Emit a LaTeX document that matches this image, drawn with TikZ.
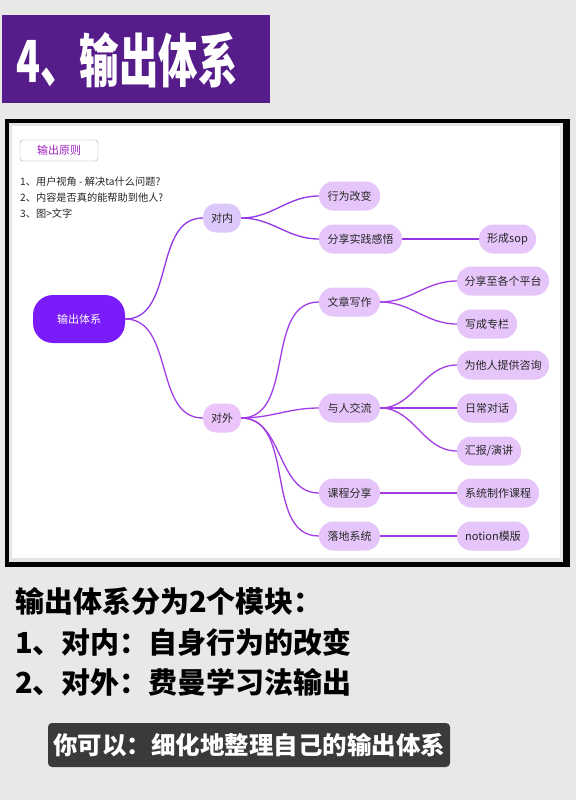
\documentclass[tikz,border=0pt]{standalone}
\usepackage{fontspec}
\newfontfamily\cjk{Noto Sans CJK SC}
\definecolor{bgc}{HTML}{E8E8E6}
\definecolor{titlec}{HTML}{561D8A}
\definecolor{rootc}{HTML}{7A1CFA}
\definecolor{innc}{HTML}{DCC8FB}
\definecolor{outc}{HTML}{EAC4FB}
\definecolor{leafc}{HTML}{E6C6FA}
\definecolor{edgec}{HTML}{A43CE6}
\definecolor{edgeu}{HTML}{9236E8}
\definecolor{headc}{HTML}{A020C0}
\definecolor{boxc}{HTML}{3A3A3A}
\begin{document}
\begin{tikzpicture}[x=1pt,y=-1pt,
  mm/.style={font=\cjk\fontsize{11}{13}\selectfont, text=black!85, fill=leafc,
    rounded corners=14pt, minimum height=29pt, inner xsep=6pt, inner ysep=0pt},
  lvl/.style={mm, minimum width=38pt, rounded corners=13pt},
  edge/.style={draw=edgec, line width=1.3pt},
  bigtext/.style={font=\cjk\bfseries\fontsize{29}{32}\selectfont, anchor=west, inner sep=0pt}
]
\useasboundingbox (0,0) rectangle (576,800);
\fill[bgc] (0,0) rectangle (576,800);
% title
\fill[titlec] (2,15) rectangle (270,103);
\node[text=white, font=\cjk\bfseries\fontsize{58}{60}\selectfont, inner sep=0pt] (title) at (127,60)
  {\scalebox{0.68}[1]{4、输出体系}};
% frame
\fill[black] (5,119) rectangle (570,567);
\fill[gray!20] (9,123) rectangle (563,562);
\fill[white] (12,126) rectangle (560,558);
% principles
\node[draw=gray!70, rounded corners=3pt, minimum width=78pt, minimum height=21pt,
  text=headc, font=\cjk\fontsize{11}{13}\selectfont, inner sep=0pt] (head) at (59,150.5) {输出原则};
\node[anchor=west, font=\cjk\fontsize{10.2}{16}\selectfont, inner sep=0pt, align=left, text=black!85] (list) at (20,197.5)
  {1、用户视角 - 解决ta什么问题?\\2、内容是否真的能帮助到他人?\\3、图>文字};
% root
\node[fill=rootc, text=white, font=\cjk\fontsize{11}{13}\selectfont, rounded corners=20pt,
  minimum width=92pt, minimum height=48pt] (root) at (79,319) {输出体系};
% level 1
\node[lvl, fill=innc] (nei) at (222,218) {对内};
\node[lvl, fill=outc] (wai) at (222,418) {对外};
% level 2
\node[mm, minimum width=61pt] (a1) at (349.5,196) {行为改变};
\node[mm, minimum width=83pt] (a2) at (360.5,239) {分享实践感悟};
\node[mm, minimum width=57pt] (a21) at (507.5,239) {形成sop};
\node[mm, minimum width=61pt] (b1) at (349.5,302) {文章写作};
\node[mm, minimum width=92pt] (b11) at (503,281) {分享至各个平台};
\node[mm, minimum width=60pt] (b12) at (487,324) {写成专栏};
\node[mm, minimum width=61pt] (b2) at (349.5,408) {与人交流};
\node[mm, minimum width=92pt] (b21) at (503,365) {为他人提供咨询};
\node[mm, minimum width=60pt] (b22) at (487,408) {日常对话};
\node[mm, minimum width=64pt] (b23) at (489,451) {汇报/演讲};
\node[mm, minimum width=61pt] (b3) at (349.5,493) {课程分享};
\node[mm, minimum width=82pt] (b31) at (498,493) {系统制作课程};
\node[mm, minimum width=61pt] (b4) at (349.5,536) {落地系统};
\node[mm, minimum width=72pt] (b41) at (493,536) {notion模版};
% edges
\draw[edge, draw=edgeu] (root.east) to[out=0,in=180] (nei.west);
\draw[edge] (root.east) to[out=0,in=180] (wai.west);
\draw[edge, draw=edgeu] (nei.east) to[out=0,in=180] (a1.west);
\draw[edge, draw=edgeu] (nei.east) to[out=0,in=180] (a2.west);
\draw[edge, draw=edgeu] (a2.east) -- (a21.west);
\draw[edge] (wai.east) to[out=0,in=180] (b1.west);
\draw[edge] (wai.east) to[out=0,in=180] (b2.west);
\draw[edge] (wai.east) to[out=0,in=180] (b3.west);
\draw[edge] (wai.east) to[out=0,in=180] (b4.west);
\draw[edge] (b1.east) to[out=0,in=180] (b11.west);
\draw[edge] (b1.east) to[out=0,in=180] (b12.west);
\draw[edge] (b2.east) to[out=0,in=180] (b21.west);
\draw[edge] (b2.east) -- (b22.west);
\draw[edge] (b2.east) to[out=0,in=180] (b23.west);
\draw[edge] (b3.east) -- (b31.west);
\draw[edge] (b4.east) -- (b41.west);
% bottom text
\node[bigtext] (l1) at (15,601) {输出体系分为2个模块：};
\node[bigtext] (l2) at (15,642) {1、对内：自身行为的改变};
\node[bigtext] (l3) at (15,682) {2、对外：费曼学习法输出};
\node[fill=boxc, rounded corners=4pt, minimum width=402pt, minimum height=44pt, inner sep=0pt,
  text=white, font=\cjk\bfseries\fontsize{24.5}{27}\selectfont] (tip) at (249,745) {你可以：细化地整理自己的输出体系};
\end{tikzpicture}
\end{document}
